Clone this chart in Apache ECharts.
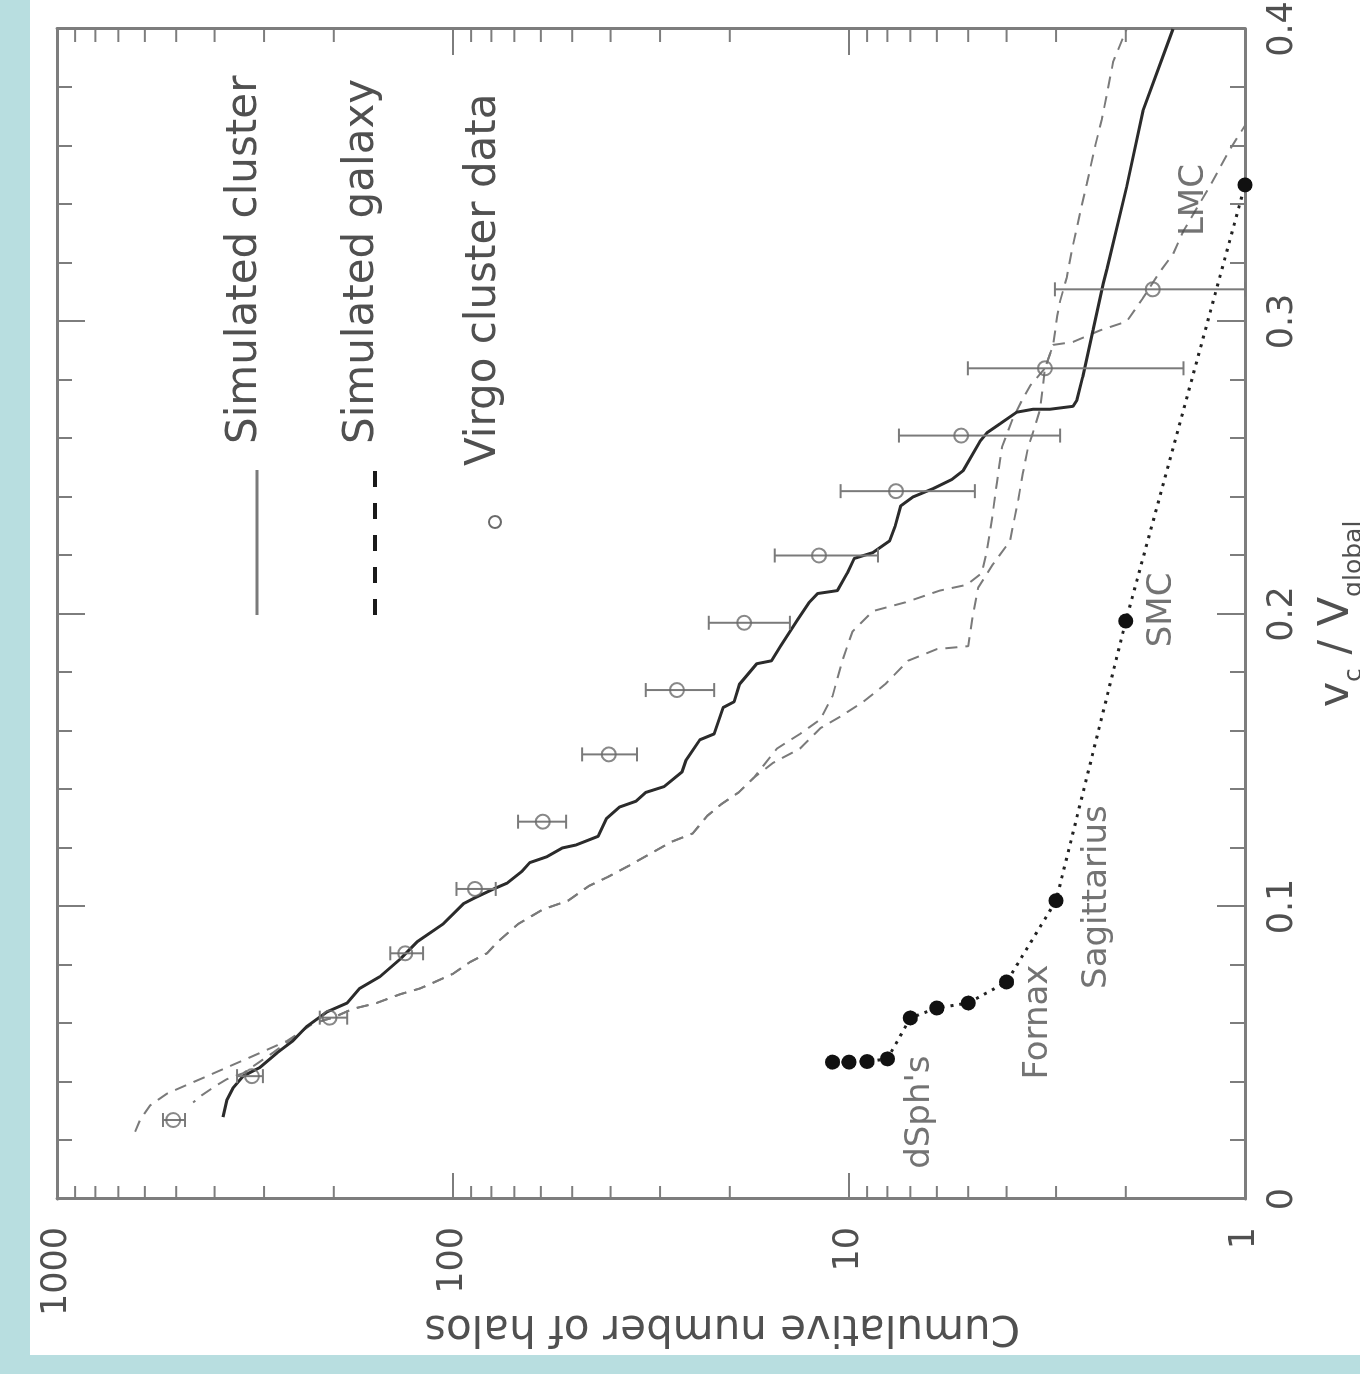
<!DOCTYPE html>
<html>
<head>
<meta charset="utf-8">
<script src="https://cdn.jsdelivr.net/npm/echarts@6/dist/echarts.min.js"></script>
<style>
html, body { margin:0; padding:0; width:1360px; height:1374px; overflow:hidden; background:#b8dee0; }
/* chart is laid out in the paper's own orientation, then turned a quarter left like the scan */
#chart { position:absolute; left:0; top:0; width:1355px; height:1330px; background:#fff;
  transform-origin:0 0; transform:translate(30px,1355px) rotate(-90deg); }
</style>
</head>
<body>
<div id="chart"></div>
<script>
// v_c / V_global  vs  cumulative number of halos
var clusterV = [0.028,0.034,0.038,0.042,0.045,0.050,0.054,0.059,0.064,0.067,0.072,0.076,0.082,0.088,0.094,0.101,0.103,0.106,0.108,0.112,0.115,0.117,0.120,0.121,0.124,0.130,0.134,0.136,0.139,0.141,0.146,0.150,0.157,0.159,0.168,0.170,0.176,0.183,0.184,0.189,0.198,0.204,0.207,0.208,0.214,0.219,0.221,0.225,0.230,0.237,0.240,0.243,0.246,0.249,0.259,0.262,0.265,0.269,0.270,0.270,0.271,0.273,0.281,0.297,0.313,0.318,0.346,0.372,0.400];
var clusterN = [381,372,359,339,307,278,254,234,208,185,172,153,136,123,106,94,88,79,73,67,64,58,53,49,43,41,38,34.5,32.6,29.3,26.4,25.8,23.8,21.9,20.8,19.5,18.9,17.1,15.7,14.9,13.5,12.6,12.0,10.7,10.1,9.7,8.7,7.9,7.65,7.4,6.9,6.1,5.5,5.15,4.67,4.48,4.16,3.77,3.43,3.11,2.72,2.66,2.57,2.42,2.28,2.23,1.99,1.81,1.52];

var galaxy1V = [0.023,0.027,0.032,0.036,0.039,0.042,0.045,0.048,0.051,0.054,0.057,0.060,0.062,0.065,0.067,0.070,0.072,0.074,0.077,0.081,0.084,0.088,0.094,0.099,0.102,0.107,0.110,0.114,0.118,0.122,0.125,0.131,0.135,0.139,0.144,0.154,0.159,0.164,0.172,0.184,0.194,0.201,0.204,0.208,0.210,0.214,0.222,0.233,0.245,0.257,0.266,0.273,0.278,0.284,0.292,0.302,0.307,0.315,0.326,0.337,0.347,0.360,0.369,0.378,0.389,0.400];
var galaxy1N = [635,617,582,528,470,418,372,331,295,263,243,226,201,179,156,136,121,112,100,90.6,82.1,77,68.5,59.3,51.2,45.4,40.8,35.9,31.8,28.2,24.8,22.8,21.0,19.0,17.4,15.2,13.3,11.8,11.0,10.4,9.8,8.7,7.2,5.9,5.04,4.62,4.48,4.35,4.23,4.11,3.88,3.66,3.49,3.20,3.05,2.98,2.93,2.82,2.72,2.61,2.51,2.39,2.30,2.23,2.15,1.99];

var galaxy2V = [0.033,0.035,0.039,0.041,0.043,0.047,0.050,0.057,0.060,0.062,0.065,0.067,0.070,0.072,0.074,0.077,0.081,0.084,0.088,0.094,0.099,0.102,0.107,0.110,0.114,0.118,0.122,0.125,0.131,0.135,0.139,0.144,0.149,0.154,0.161,0.165,0.170,0.176,0.184,0.188,0.189,0.200,0.209,0.217,0.225,0.239,0.248,0.257,0.261,0.270,0.284,0.292,0.293,0.297,0.300,0.308,0.317,0.323,0.331,0.346,0.359,0.367];
var galaxy2N = [453,436,394,372,339,307,285,243,226,201,179,156,136,121,112,100,90.6,82.1,77,68.5,59.3,51.2,45.4,40.8,35.9,31.8,28.2,24.8,22.8,21.0,19.0,17.4,15.6,13.3,11.8,10.5,9.2,8.1,7.1,6.0,5.0,4.86,4.72,4.33,3.92,3.74,3.64,3.53,3.45,3.29,3.20,3.05,2.72,2.32,1.99,1.81,1.64,1.52,1.43,1.23,1.09,1.0];

var virgoV = [0.027,0.042,0.062,0.084,0.106,0.129,0.152,0.174,0.197,0.220,0.242,0.261,0.284,0.311];
var virgoN = [509,322,205,132,88,59.3,40.4,27.2,18.4,11.9,7.61,5.21,3.20,1.71];
var virgoLow = [475,302,185,119,78,51.8,34.3,21.9,14.1,8.45,4.81,2.93,1.43,1.0];
var virgoHigh = [540,351,217,144,98,68.5,47.2,32.6,22.6,15.4,10.5,7.48,5.01,3.02];

var milkyWayV = [0.0468,0.0468,0.0470,0.0479,0.0619,0.0653,0.0670,0.0742,0.1020,0.1976,0.3467];
var milkyWayN = [11,10,9,8,7,6,5,4,3,2,1];

var noteNames = ["dSph's", 'Fornax', 'Sagittarius', 'SMC', 'LMC'];
var noteV = [0.0297,0.0605,0.1032,0.2014,0.3415];
var noteN = [6.62,3.33,2.36,1.62,1.34];

var logMinorTicks = [2,3,4,5,6,7,8,9,20,30,40,50,60,70,80,90,200,300,400,500,600,700,800,900];

var FONT = 'DejaVu Sans';
var INK = '#505050';
var FRAME = '#7d7d7d';
var DASH = [12, 8];

function pairs(xs, ys) {
  var out = [];
  for (var i = 0; i < xs.length; i++) out.push([xs[i], ys[i]]);
  return out;
}

function renderLogTick(params, api) {
  var n = api.value(1);
  var a = api.coord([0, n]);
  var b = api.coord([0.4, n]);
  var st = {stroke: FRAME, lineWidth: 2};
  return {type: 'group', children: [
    {type: 'line', shape: {x1: a[0], y1: a[1], x2: a[0] + 13, y2: a[1]}, style: st},
    {type: 'line', shape: {x1: b[0] - 13, y1: b[1], x2: b[0], y2: b[1]}, style: st}
  ]};
}

function renderErrorBar(params, api) {
  var v = api.value(0);
  var lo = api.coord([v, api.value(1)]);
  var hi = api.coord([v, api.value(2)]);
  var cap = 7;
  var st = {stroke: '#7a7a7a', lineWidth: 2};
  return {type: 'group', children: [
    {type: 'line', shape: {x1: lo[0], y1: lo[1], x2: hi[0], y2: hi[1]}, style: st},
    {type: 'line', shape: {x1: lo[0] - cap, y1: lo[1], x2: lo[0] + cap, y2: lo[1]}, style: st},
    {type: 'line', shape: {x1: hi[0] - cap, y1: hi[1], x2: hi[0] + cap, y2: hi[1]}, style: st}
  ]};
}

var vAxisBase = {
  type: 'value', min: 0, max: 0.4, interval: 0.1,
  axisLine: {show: true, onZero: false, lineStyle: {color: FRAME, width: 3}},
  axisTick: {show: true, inside: true, length: 28, lineStyle: {color: FRAME, width: 2}},
  minorTick: {show: true, splitNumber: 5, length: 15, lineStyle: {color: FRAME, width: 2}},
  splitLine: {show: false}
};
var nAxisBase = {
  type: 'log', logBase: 10, min: 1, max: 1000,
  axisLine: {show: true, onZero: false, lineStyle: {color: FRAME, width: 3}},
  axisTick: {show: true, inside: true, length: 26, lineStyle: {color: FRAME, width: 2}},
  minorTick: {show: false},
  splitLine: {show: false}
};

var chart = echarts.init(document.getElementById('chart'));

var option = {
  animation: false,
  backgroundColor: '#ffffff',
  grid: {left: 156, right: 29, top: 27, bottom: 115, outerBoundsMode: 'none'}
};

option.xAxis = [
  Object.assign({}, vAxisBase, {position: 'bottom',
    axisLabel: {show: true, margin: 20, fontSize: 35, fontFamily: FONT, color: INK}}),
  Object.assign({}, vAxisBase, {position: 'top', axisLabel: {show: false}})
];
option.yAxis = [
  Object.assign({}, nAxisBase, {position: 'left',
    axisLabel: {show: true, margin: 28, fontSize: 35, fontFamily: FONT, color: INK,
      formatter: function(val) { return String(Math.round(val)); }}}),
  Object.assign({}, nAxisBase, {position: 'right', axisLabel: {show: false}})
];

option.series = [
  {
    name: 'log ticks', type: 'custom', silent: true, clip: false,
    data: logMinorTicks.map(function(n) { return [0, n]; }),
    renderItem: renderLogTick, z: 1
  },
  {
    name: 'Simulated galaxy', type: 'line', data: pairs(galaxy1V, galaxy1N),
    showSymbol: false, symbol: 'none', silent: true,
    lineStyle: {color: '#7a7a7a', width: 2, type: DASH}, z: 2
  },
  {
    name: 'Simulated galaxy 2', type: 'line', data: pairs(galaxy2V, galaxy2N),
    showSymbol: false, symbol: 'none', silent: true,
    lineStyle: {color: '#7a7a7a', width: 2, type: DASH}, z: 2
  },
  {
    name: 'Simulated cluster', type: 'line', data: pairs(clusterV, clusterN),
    showSymbol: false, symbol: 'none', silent: true,
    lineStyle: {color: '#2b2b2b', width: 3}, z: 3
  },
  {
    name: 'error bars', type: 'custom', silent: true,
    data: virgoV.map(function(v, i) { return [v, virgoLow[i], virgoHigh[i]]; }),
    encode: {x: 0, y: [1, 2]},
    renderItem: renderErrorBar, z: 4
  },
  {
    name: 'Virgo cluster data', type: 'scatter', data: pairs(virgoV, virgoN),
    symbol: 'circle', symbolSize: 14, silent: true,
    itemStyle: {color: 'rgba(255,255,255,0)', borderColor: '#6a6a6a', borderWidth: 2}, z: 5
  },
  {
    name: 'Milky Way', type: 'line', data: pairs(milkyWayV, milkyWayN), clip: false,
    symbol: 'circle', symbolSize: 15, showSymbol: true, showAllSymbol: true, silent: true,
    itemStyle: {color: '#111'},
    lineStyle: {color: '#222', width: 3, type: [3, 6]}, z: 6
  },
  {
    name: 'notes', type: 'scatter', clip: false, silent: true,
    data: noteNames.map(function(t, i) { return {name: t, value: [noteV[i], noteN[i]]}; }),
    symbolSize: 1, itemStyle: {color: 'rgba(0,0,0,0)'},
    label: {show: true, position: 'inside', formatter: '{b}', fontSize: 34, fontFamily: FONT, color: INK},
    z: 7
  }
];

option.graphic = [
  {type: 'line', shape: {x1: 740, y1: 227, x2: 885, y2: 227}, style: {stroke: '#7a7a7a', lineWidth: 3}},
  {type: 'text', x: 911, y: 215, style: {text: 'Simulated cluster', fontSize: 42, fontFamily: FONT, fill: INK, align: 'left', verticalAlign: 'middle'}},
  {type: 'line', shape: {x1: 740, y1: 345, x2: 885, y2: 345}, style: {stroke: '#1a1a1a', lineWidth: 4, lineDash: [16, 16]}},
  {type: 'text', x: 911, y: 332, style: {text: 'Simulated galaxy', fontSize: 42, fontFamily: FONT, fill: INK, align: 'left', verticalAlign: 'middle'}},
  {type: 'circle', shape: {cx: 833, cy: 465, r: 6}, style: {fill: 'none', stroke: '#6a6a6a', lineWidth: 2}},
  {type: 'text', x: 889, y: 454, style: {text: 'Virgo cluster data', fontSize: 42, fontFamily: FONT, fill: INK, align: 'left', verticalAlign: 'middle'}},
  {type: 'text', x: 28, y: 692, rotation: Math.PI / 2,
    style: {text: 'Cumulative number of halos', fontSize: 42, fontFamily: FONT, fill: INK, align: 'center', verticalAlign: 'middle'}},
  {type: 'text', x: 741, y: 1315,
    style: {
      text: '{m|v}{s|c}{m| / V}{s|global}', align: 'center', verticalAlign: 'middle',
      rich: {
        m: {fontSize: 43, fontFamily: FONT, fill: INK, lineHeight: 43, verticalAlign: 'bottom', padding: [0, 0, 8, 0]},
        s: {fontSize: 25, fontFamily: FONT, fill: INK, lineHeight: 25, verticalAlign: 'bottom'}
      }
    }}
];

chart.setOption(option);

// the two galaxy curves share a stretch; line their dash phases up so it reads as one dashed line
function pixelLength(xs, ys, upto) {
  var len = 0, prev = null;
  for (var i = 0; i <= upto; i++) {
    var p = chart.convertToPixel({gridIndex: 0}, [xs[i], ys[i]]);
    if (prev) len += Math.sqrt((p[0] - prev[0]) * (p[0] - prev[0]) + (p[1] - prev[1]) * (p[1] - prev[1]));
    prev = p;
  }
  return len;
}
var period = DASH[0] + DASH[1];
var l1 = pixelLength(galaxy1V, galaxy1N, galaxy1V.indexOf(0.057));
var l2 = pixelLength(galaxy2V, galaxy2N, galaxy2V.indexOf(0.057));
var shift = (((l1 - l2) % period) + period) % period;
chart.setOption({series: [{}, {}, {lineStyle: {dashOffset: shift}}]});
</script>
</body>
</html>
